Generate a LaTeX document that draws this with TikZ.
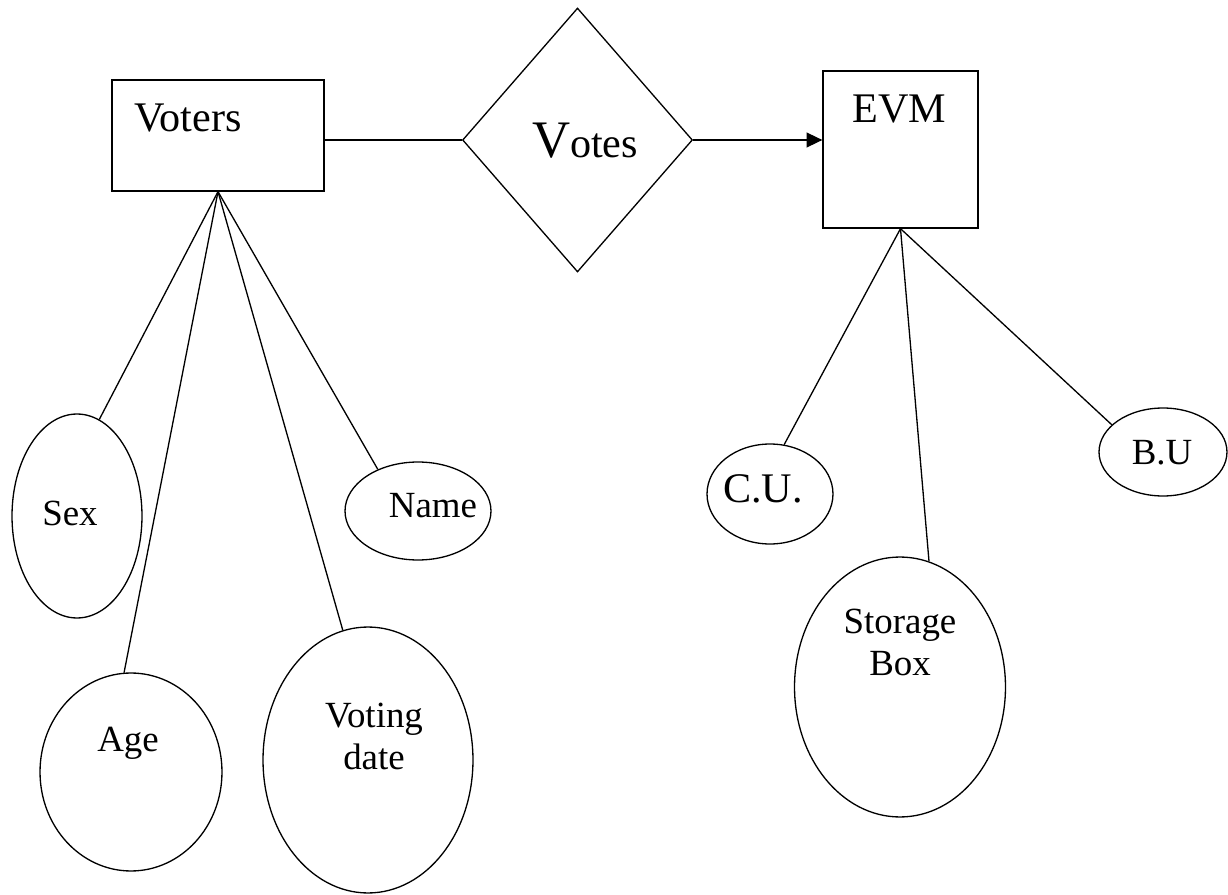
\documentclass[tikz,border=0pt]{standalone}
\usepackage{fontspec}
\setmainfont{Liberation Serif}
\usetikzlibrary{shapes.geometric,arrows.meta}

\tikzset{
  entity/.style={draw, rectangle, line width=0.75pt, inner sep=0pt},
  relship/.style={draw, diamond, line width=0.75pt, inner sep=0pt},
  attrib/.style={draw, ellipse, line width=0.75pt, inner sep=0pt},
  txt/.style={inner sep=0pt, font=\fontsize{21}{24}\selectfont},
  bigtxt/.style={inner sep=0pt, font=\fontsize{24}{28}\selectfont},
  link/.style={line width=0.75pt}
}

\begin{document}
\begin{tikzpicture}[x=0.02cm,y=-0.02cm]
    \useasboundingbox (0,0) rectangle (1228,895);

    % entities and relationship
    \node[entity, minimum width=4.24cm, minimum height=2.22cm] (voters) at (218,135.5) {};
    \node[bigtxt, anchor=base] (votersText) at (188,132) {Voters};
    \node[relship, minimum width=4.6cm, minimum height=5.28cm] (votes) at (577.5,140) {};
    \node[inner sep=0pt, anchor=base] (votesText) at (585,158)
      {\fontsize{30}{34}\selectfont V\fontsize{24}{28}\selectfont otes};
    \node[entity, minimum width=3.1cm, minimum height=3.14cm] (evm) at (900.5,149.5) {};
    \node[bigtxt, anchor=base] (evmText) at (899.5,123) {EVM};

    \draw[link] (voters.east |- votes.west) -- (votes.west);
    \draw[link, -{Triangle[length=9pt, width=8.5pt]}] (votes.east) -- (evm.west |- votes.east);

    % attributes of Voters
    \node[attrib, minimum width=2.6cm, minimum height=4.08cm] (sex) at (77,516) {};
    \node[txt, anchor=base] (sexText) at (70,525) {Sex};
    \node[attrib, minimum width=3.64cm, minimum height=3.96cm] (age) at (131,772) {};
    \node[txt, anchor=base] (ageText) at (128,751) {Age};
    \node[attrib, minimum width=4.2cm, minimum height=5.32cm] (vdate) at (368,760) {};
    \node[txt, anchor=north, align=center] (vdateText) at (374,703) {Voting\\date};
    \node[attrib, minimum width=2.92cm, minimum height=1.96cm] (name) at (418,511) {};
    \node[txt, anchor=base] (nameText) at (433,517) {Name};

    \draw[link] (voters.south) -- (sex.77);
    \draw[link] (voters.south) -- (age.94);
    \draw[link] (voters.south) -- (vdate.101);
    \draw[link] (voters.south) -- (name.134);

    % attributes of EVM
    \node[attrib, minimum width=2.52cm, minimum height=2cm] (cu) at (770,494) {};
    \node[bigtxt, anchor=base] (cuText) at (763,502) {C.U.};
    \node[attrib, minimum width=4.22cm, minimum height=5.2cm] (store) at (900,687) {};
    \node[txt, anchor=north, align=center] (storeText) at (900,609) {Storage\\Box};
    \node[attrib, minimum width=2.56cm, minimum height=1.76cm] (bu) at (1163,452) {};
    \node[txt, anchor=base] (buText) at (1162,464) {B.U};

    \draw[link] (evm.south) -- (cu.74);
    \draw[link] (evm.south) -- (store.77);
    \draw[link] (evm.south) -- (bu.152);
\end{tikzpicture}
\end{document}
